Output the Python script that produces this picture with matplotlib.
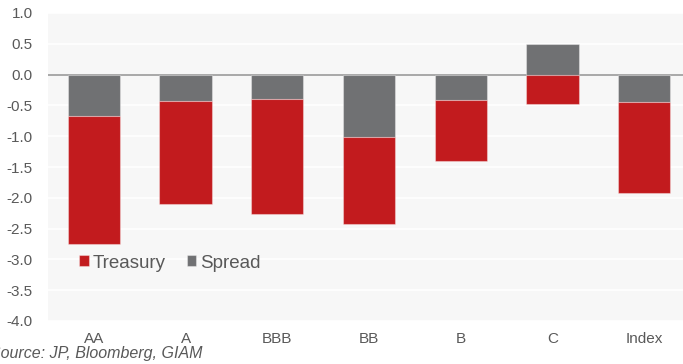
import matplotlib.pyplot as plt
import numpy as np

plt.rcParams['font.family'] = ['Liberation Sans', 'DejaVu Sans']

# Total return decomposition by rating bucket
ratings = ["AA", "A", "BBB", "BB", "B", "C", "Index"]
spread = [-0.68, -0.43, -0.40, -1.01, -0.41, 0.49, -0.44]
treasury = [-2.07, -1.67, -1.87, -1.41, -0.99, -0.47, -1.48]
yticks = np.arange(-4.0, 1.01, 0.5)

red = "#c21b1e"
grey = "#707173"
text_col = "#595959"

fig = plt.figure(figsize=(6.83, 3.64), dpi=100)
ax = fig.add_axes([48 / 683, 43 / 364, 642 / 683, 308 / 364])
ax.set_facecolor("#f7f7f7")

x = np.arange(len(ratings))
spread = np.array(spread)
treasury = np.array(treasury)
base = np.minimum(spread, 0)

ax.bar(x, spread, width=0.57, color=grey, edgecolor=(1, 1, 1, 0.35),
       linewidth=0.8, label="Spread", zorder=3)
ax.bar(x, treasury, bottom=base, width=0.57, color=red,
       edgecolor=(1, 1, 1, 0.35), linewidth=0.8, label="Treasury", zorder=3)

ax.axhline(0, color="#9a9a9a", linewidth=1.2, zorder=2)
ax.set_xlim(-0.5, len(ratings) - 0.5)
ax.set_ylim(-4.0, 1.0)
ax.set_yticks(yticks)
ax.set_yticklabels([f"{v:.1f}" for v in yticks])
ax.set_xticks(x)
ax.set_xticklabels(ratings)
ax.yaxis.grid(True, color="white", linewidth=1.2, zorder=1)
ax.set_axisbelow(True)
ax.tick_params(length=0, labelsize=11, colors=text_col)
ax.tick_params(axis="x", pad=8)
ax.tick_params(axis="y", pad=11)
for s in ax.spines.values():
    s.set_visible(False)

handles, labels = ax.get_legend_handles_labels()
ax.legend(handles[::-1], labels[::-1], loc="center left",
          bbox_to_anchor=(0.048, 0.188), ncol=2, frameon=False,
          fontsize=13.5, labelcolor=text_col, handlelength=0.53,
          handleheight=0.53, handletextpad=0.22, columnspacing=1.1,
          borderpad=0, borderaxespad=0)

fig.text(-10 / 683, 3 / 364, "Source: JP, Bloomberg, GIAM", fontsize=11.5,
         style="italic", color=text_col, va="bottom", ha="left")

fig.savefig("out.png", dpi=100)
